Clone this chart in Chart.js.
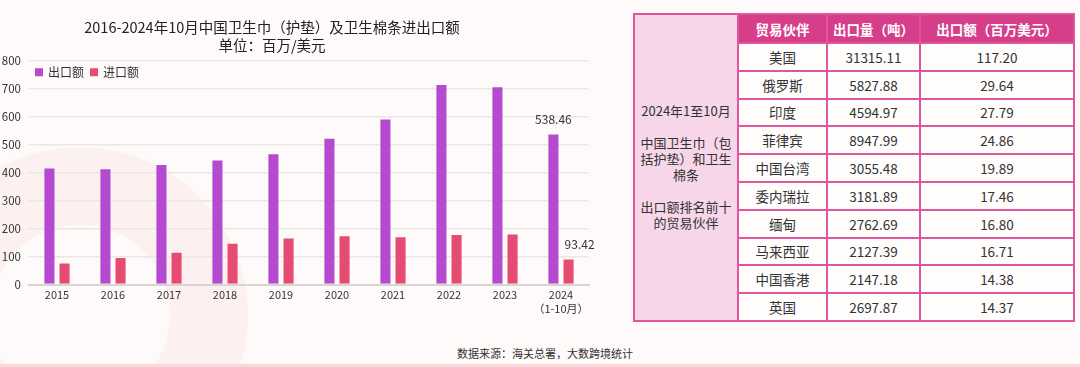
<!DOCTYPE html>
<html>
<head>
<meta charset="utf-8">
<script src="https://cdn.jsdelivr.net/npm/chart.js@4/dist/chart.umd.min.js"></script>
<style>
  body {
    margin: 0;
    width: 1080px;
    height: 367px;
    overflow: hidden;
    position: relative;
    background: #fefafa;
    font-family: "Noto Sans CJK SC", "Noto Sans", sans-serif;
    color: #333;
  }
  .ring {
    position: absolute;
    left: -88px;
    top: 147px;
    width: 336px;
    height: 336px;
    box-sizing: border-box;
    border-radius: 50%;
    border: 78px solid #fcf1f0;
  }
  .chart-box {
    position: absolute;
    left: -46px;
    top: 0;
    width: 652px;
    height: 324px;
  }
  #partnerTable {
    position: absolute;
    left: 633px;
    top: 13px;
    width: 440px;
    border-collapse: collapse;
    table-layout: fixed;
    font-size: 13.5px;
  }
  #partnerTable td, #partnerTable th {
    border: 2px solid #e0559b;
    text-align: center;
    padding: 0;
    background: #fffcfc;
    color: #333;
    font-weight: normal;
  }
  #partnerTable th {
    background: #d63e8a;
    color: #fff;
    font-weight: bold;
    height: 27px;
  }
  #partnerTable td {
    height: 25.8px;
  }
  #partnerTable td.side {
    background: #f6d6e8;
    font-size: 13px;
    line-height: 16px;
  }
  .source {
    position: absolute;
    left: 345px;
    width: 400px;
    top: 345px;
    text-align: center;
    font-size: 11px;
    color: #333;
  }
  .bottom-line {
    position: absolute;
    left: 0;
    top: 364px;
    width: 1080px;
    height: 3px;
    background: #f9dada;
  }
</style>
</head>
<body>
<div class="ring"></div>
<div class="chart-box"><canvas id="tradeChart"></canvas></div>
<table id="partnerTable"></table>
<div class="source">数据来源：海关总署，大数跨境统计</div>
<div class="bottom-line"></div>

<script>
const years = ['2015', '2016', '2017', '2018', '2019', '2020', '2021', '2022', '2023', ['2024', '（1-10月）']];
const exportValues = [418, 415, 430, 446, 468, 524, 592, 715, 707, 538.46];
const importValues = [79, 98, 117, 149, 168, 176, 172, 180, 182, 93.42];

const partners = ['美国', '俄罗斯', '印度', '菲律宾', '中国台湾', '委内瑞拉', '缅甸', '马来西亚', '中国香港', '英国'];
const exportTons = ['31315.11', '5827.88', '4594.97', '8947.99', '3055.48', '3181.89', '2762.69', '2127.39', '2147.18', '2697.87'];
const exportAmounts = ['117.20', '29.64', '27.79', '24.86', '19.89', '17.46', '16.80', '16.71', '14.38', '14.37'];
const tableHeaders = ['贸易伙伴', '出口量（吨）', '出口额（百万美元）'];
const sideText = ['2024年1至10月', '', '中国卫生巾（包', '括护垫）和卫生', '棉条', '', '出口额排名前十', '的贸易伙伴'];

const FONT = '"Noto Sans CJK SC", "Noto Sans", sans-serif';

// table on the right
function buildTable() {
  const table = document.getElementById('partnerTable');
  let html = '<colgroup><col style="width:104px"><col style="width:89px"><col style="width:93px"><col style="width:154px"></colgroup>';
  html += `<tr><td class="side" rowspan="${partners.length + 1}">${sideText.map((t) => t || '&nbsp;').join('<br>')}</td>`;
  html += tableHeaders.map((h) => `<th>${h}</th>`).join('') + '</tr>';
  partners.forEach((p, i) => {
    html += `<tr><td>${p}</td><td>${exportTons[i]}</td><td>${exportAmounts[i]}</td></tr>`;
  });
  table.innerHTML = html;
}
buildTable();

// value labels on the 2024 bars only
const lastValueLabels = {
  id: 'lastValueLabels',
  afterDatasetsDraw(chart) {
    const { ctx } = chart;
    ctx.save();
    ctx.font = `12px ${FONT}`;
    ctx.fillStyle = '#333';
    ctx.textAlign = 'center';
    ctx.textBaseline = 'bottom';
    chart.data.datasets.forEach((ds, i) => {
      const meta = chart.getDatasetMeta(i);
      const last = meta.data.length - 1;
      const bar = meta.data[last];
      const shift = i === 1 ? 11 : 0;
      ctx.fillText(ds.data[last].toFixed(2), bar.x + shift, bar.y - 8);
    });
    ctx.restore();
  },
};

// legend sits inside the plot, under the top gridline
const innerLegend = {
  id: 'innerLegend',
  afterDraw(chart) {
    const { ctx, chartArea } = chart;
    ctx.save();
    ctx.font = `12px ${FONT}`;
    ctx.textBaseline = 'middle';
    ctx.textAlign = 'left';
    let x = chartArea.left + 6;
    const y = chartArea.top + 12;
    chart.data.datasets.forEach((ds) => {
      ctx.fillStyle = ds.backgroundColor;
      ctx.fillRect(x, y - 4, 8, 8);
      ctx.fillStyle = '#333';
      ctx.fillText(ds.label, x + 13, y);
      x += 13 + ctx.measureText(ds.label).width + 6;
    });
    ctx.restore();
  },
};

const ctx = document.getElementById('tradeChart').getContext('2d');

new Chart(ctx, {
  type: 'bar',
  data: {
    labels: years,
    datasets: [{
      label: '出口额',
      data: exportValues,
      backgroundColor: '#b44acf',
      borderColor: 'rgba(255, 255, 255, 0.35)',
      borderWidth: 1,
      categoryPercentage: 0.54,
      barPercentage: 0.8,
    }, {
      label: '进口额',
      data: importValues,
      backgroundColor: '#e64c72',
      borderColor: 'rgba(255, 255, 255, 0.35)',
      borderWidth: 1,
      categoryPercentage: 0.54,
      barPercentage: 0.8,
    }],
  },
  options: {
    responsive: true,
    maintainAspectRatio: false,
    animation: false,
    layout: {
      padding: { left: 1, right: 17, top: 0, bottom: 5 },
    },
    plugins: {
      title: {
        display: true,
        text: ['2016-2024年10月中国卫生巾（护垫）及卫生棉条进出口额', '单位：百万/美元'],
        color: '#222',
        font: { size: 14.5, weight: 'normal', lineHeight: 1.25, family: FONT },
        padding: { top: 18, bottom: 6 },
      },
      legend: { display: false },
      tooltip: { enabled: false },
    },
    scales: {
      x: {
        grid: { display: false, drawTicks: false },
        border: { color: '#d8d4d4', width: 2 },
        ticks: {
          color: '#333',
          padding: 4,
          autoSkip: false,
          maxRotation: 0,
          font: { size: 11, family: FONT },
        },
      },
      y: {
        min: 0,
        max: 800,
        afterFit(scale) {
          scale.width = 74;
        },
        grid: { color: '#ebe6e6', lineWidth: 1.5, drawTicks: false },
        border: { display: false },
        ticks: {
          stepSize: 100,
          color: '#333',
          padding: 8,
          font: { size: 11.5, family: FONT },
        },
      },
    },
  },
  plugins: [lastValueLabels, innerLegend],
});
</script>
</body>
</html>
